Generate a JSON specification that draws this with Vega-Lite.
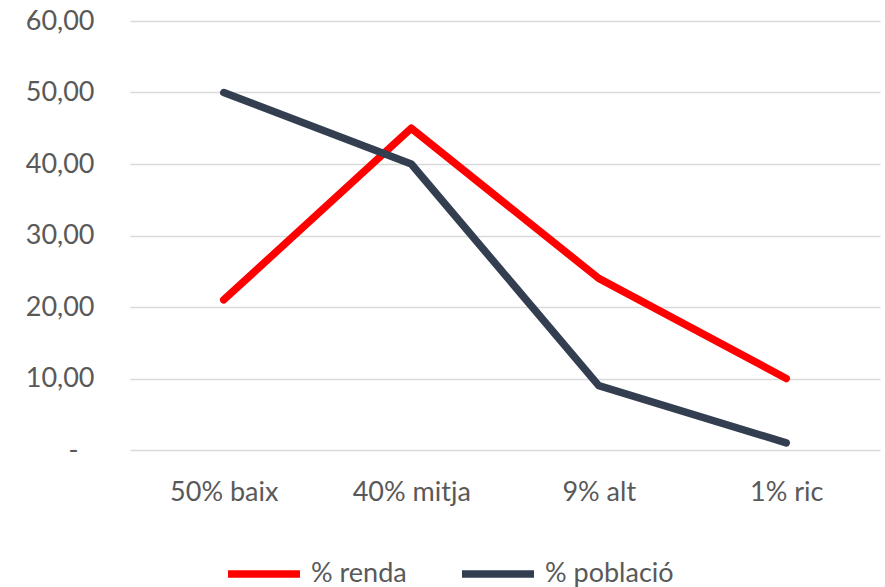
{
  "$schema": "https://vega.github.io/schema/vega-lite/v6.json",
  "width": 750,
  "height": 429,
  "autosize": {"type": "none"},
  "padding": {"left": 130, "top": 21, "right": 5, "bottom": 137},
  "background": "white",
  "config": {
    "view": {"stroke": null},
    "font": "Lato",
    "axis": {"labelFont": "Lato", "labelColor": "#595959", "labelFontSize": 27},
    "legend": {"labelFont": "Lato", "labelColor": "#595959", "labelFontSize": 27}
  },
  "data": {
    "values": [
      {"cat": "50% baix", "serie": "% renda", "value": 21},
      {"cat": "40% mitja", "serie": "% renda", "value": 45},
      {"cat": "9% alt", "serie": "% renda", "value": 24},
      {"cat": "1% ric", "serie": "% renda", "value": 10},
      {"cat": "50% baix", "serie": "% població", "value": 50},
      {"cat": "40% mitja", "serie": "% població", "value": 40},
      {"cat": "9% alt", "serie": "% població", "value": 9},
      {"cat": "1% ric", "serie": "% població", "value": 1}
    ]
  },
  "mark": {"type": "line", "strokeWidth": 7.5, "strokeCap": "round", "strokeJoin": "round"},
  "encoding": {
    "x": {
      "field": "cat",
      "type": "ordinal",
      "sort": ["50% baix", "40% mitja", "9% alt", "1% ric"],
      "scale": {"padding": 0.5},
      "axis": {"title": null, "domain": false, "ticks": false, "labelAngle": 0, "labelPadding": 29, "grid": false}
    },
    "y": {
      "field": "value",
      "type": "quantitative",
      "scale": {"domain": [0, 60], "nice": false},
      "axis": {
        "title": null,
        "values": [0, 10, 20, 30, 40, 50, 60],
        "domain": false,
        "ticks": false,
        "grid": true,
        "gridColor": "#d9d9d9",
        "gridWidth": 1.5,
        "labelPadding": {"condition": {"test": "datum.value == 0", "value": 52}, "value": 36},
        "labelExpr": "datum.value == 0 ? '-' : replace(format(datum.value, '.2f'), '.', ',')"
      }
    },
    "color": {
      "field": "serie",
      "type": "nominal",
      "scale": {"domain": ["% renda", "% població"], "range": ["#ff0000", "#333f50"]},
      "legend": {
        "title": null,
        "orient": "none",
        "direction": "horizontal",
        "legendX": 94,
        "legendY": 513,
        "symbolType": "stroke",
        "symbolSize": 5184,
        "symbolStrokeWidth": 7.5,
        "labelOffset": 7,
        "columnPadding": 40
      }
    }
  }
}
